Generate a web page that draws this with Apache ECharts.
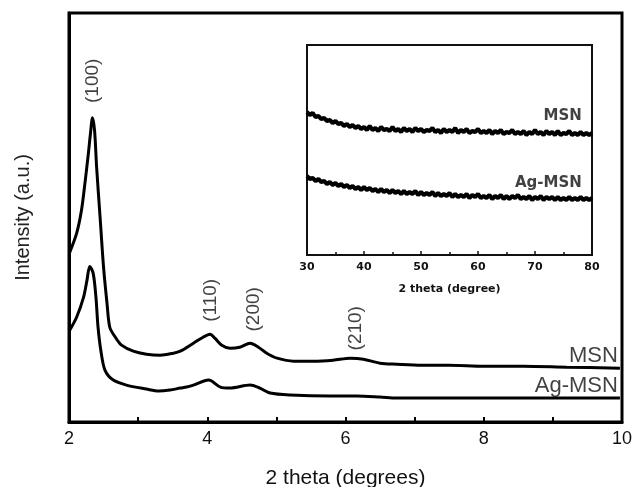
<!DOCTYPE html>
<html>
<head>
<meta charset="utf-8">
<script src="https://cdn.jsdelivr.net/npm/echarts@6/dist/echarts.min.js"></script>
<style>
  html, body { margin: 0; padding: 0; background: #fff; }
  #chart { width: 634px; height: 487px; }
</style>
</head>
<body>
<div id="chart"></div>
<script>
// main pattern, low angle (2 theta, intensity a.u.)
const msnTheta = [2.01, 2.11, 2.18, 2.23, 2.28, 2.31, 2.34, 2.37, 2.40, 2.45, 2.50, 2.55, 2.59, 2.67, 2.76, 2.93, 3.12, 3.32, 3.51, 3.61, 3.80, 3.94, 4.04, 4.11, 4.21, 4.33, 4.47, 4.62, 4.74, 4.86, 5.01, 5.25, 5.54, 5.82, 6.07, 6.26, 6.50, 6.74, 7.10, 7.50, 8.00, 8.57, 9.20, 9.97]
const msnVal = [170, 189, 212, 239, 269, 289, 305, 292, 255, 205, 155, 119, 95, 85, 77, 71, 68, 67, 69, 71, 79, 85, 88, 84, 77, 74, 75, 79, 75, 69, 64, 61, 61, 62, 64, 63, 59, 58, 57, 57, 56, 56, 55, 54]

const agTheta = [2.01, 2.11, 2.21, 2.26, 2.30, 2.35, 2.39, 2.42, 2.46, 2.52, 2.64, 2.83, 3.12, 3.30, 3.46, 3.61, 3.70, 3.80, 4.02, 4.19, 4.33, 4.62, 4.76, 4.91, 5.20, 5.78, 6.16, 6.50, 6.74, 7.50, 8.57, 9.97]
const agVal = [92, 105, 125, 142, 156, 149, 125, 95, 72, 52, 42, 37, 33, 31, 32, 34, 35, 37, 42, 35, 34, 37, 34, 29, 27, 26, 26, 25, 24, 24, 24, 24]

const peakNames = ['(100)', '(110)', '(200)', '(210)']
const peakTheta = [2.35, 4.05, 4.68, 6.15]
const peakLabelY = [342, 122, 113, 94]

const curveNames = ['MSN', 'Ag-MSN']
const curveNameY = [66, 36]

// inset, wide angle
const insetTheta = [30, 30.5, 31, 31.5, 32, 32.5, 33, 33.5, 34, 34.5, 35, 35.5, 36, 36.5, 37, 37.5, 38, 38.5, 39, 39.5, 40, 40.5, 41, 41.5, 42, 42.5, 43, 43.5, 44, 44.5, 45, 45.5, 46, 46.5, 47, 47.5, 48, 48.5, 49, 49.5, 50, 50.5, 51, 51.5, 52, 52.5, 53, 53.5, 54, 54.5, 55, 55.5, 56, 56.5, 57, 57.5, 58, 58.5, 59, 59.5, 60, 60.5, 61, 61.5, 62, 62.5, 63, 63.5, 64, 64.5, 65, 65.5, 66, 66.5, 67, 67.5, 68, 68.5, 69, 69.5, 70, 70.5, 71, 71.5, 72, 72.5, 73, 73.5, 74, 74.5, 75, 75.5, 76, 76.5, 77, 77.5, 78, 78.5, 79, 79.5, 80]
const insetMsn = [143, 140, 142, 138, 139, 136, 137, 134, 135, 132, 134, 131, 132, 129, 131, 128, 130, 127, 129, 126, 128, 125, 129, 125, 127, 124, 128, 125, 126, 124, 128, 124, 126, 123, 127, 124, 126, 123, 127, 124, 126, 123, 125, 124, 127, 123, 125, 122, 126, 123, 125, 123, 127, 122, 125, 123, 126, 122, 124, 123, 126, 122, 124, 122, 125, 121, 124, 122, 125, 121, 123, 122, 125, 121, 123, 121, 124, 120, 123, 121, 125, 121, 123, 120, 124, 121, 123, 120, 124, 120, 122, 121, 124, 120, 122, 120, 123, 120, 122, 120, 122]
const insetAg = [79, 76, 77, 74, 76, 73, 74, 71, 73, 70, 72, 69, 71, 68, 70, 67, 69, 66, 68, 65, 68, 65, 67, 64, 66, 63, 66, 63, 65, 62, 65, 62, 64, 61, 64, 61, 63, 61, 64, 60, 63, 60, 62, 60, 63, 59, 62, 59, 61, 59, 62, 58, 61, 58, 60, 58, 61, 57, 60, 58, 61, 57, 59, 57, 60, 56, 59, 57, 60, 56, 59, 56, 59, 57, 60, 56, 58, 56, 59, 55, 58, 56, 59, 55, 58, 56, 58, 55, 58, 55, 57, 55, 58, 55, 57, 55, 58, 55, 57, 55, 57]
const insetNameX = 78.2
const insetNameY = [139, 72]

const zip = (a, b) => a.map((v, i) => [v, b[i]])
const font = 'Liberation Sans, Arial, sans-serif'
const insetFont = 'DejaVu Sans, sans-serif'

const chart = echarts.init(document.getElementById('chart'))

const option = {
  animation: false,
  grid: [
    { left: 69, right: 12, top: 13, bottom: 65, outerBoundsMode: 'none', show: true, borderColor: '#000', borderWidth: 3, backgroundColor: 'transparent' },
    { left: 307, right: 42, top: 45, bottom: 232, outerBoundsMode: 'none', show: true, borderColor: '#111', borderWidth: 2, backgroundColor: '#fff' },
  ],
  xAxis: [
    {
      gridIndex: 0, type: 'value', min: 2, max: 10, interval: 2,
      name: '2 theta (degrees)', nameLocation: 'middle', nameGap: 46,
      nameTextStyle: { fontFamily: font, fontSize: 21, color: '#111' },
      axisLine: { lineStyle: { color: '#000', width: 3 } },
      axisTick: { inside: true, length: 5, lineStyle: { color: '#000', width: 2 } },
      minorTick: { show: true, splitNumber: 2, length: 5, lineStyle: { color: '#000', width: 2 } },
      axisLabel: { fontFamily: font, fontSize: 18, color: '#111', margin: 8 },
      splitLine: { show: false },
    },
    {
      gridIndex: 1, type: 'value', min: 30, max: 80, interval: 10,
      name: '2 theta (degree)', nameLocation: 'middle', nameGap: 29,
      nameTextStyle: { fontFamily: insetFont, fontSize: 11, fontWeight: 'bold', color: '#111' },
      axisLine: { lineStyle: { color: '#111', width: 2 } },
      axisTick: { inside: true, length: 4, lineStyle: { color: '#111', width: 1.5 } },
      minorTick: { show: true, splitNumber: 2, length: 3, lineStyle: { color: '#111', width: 1.5 } },
      axisLabel: { fontFamily: insetFont, fontSize: 11, fontWeight: 'bold', color: '#111', margin: 7 },
      splitLine: { show: false },
    },
  ],
  yAxis: [
    {
      gridIndex: 0, type: 'value', min: 0, max: 410,
      name: 'Intensity (a.u.)', nameLocation: 'middle', nameGap: 36,
      nameTextStyle: { fontFamily: font, fontSize: 20, color: '#222' },
      axisLine: { show: true, lineStyle: { color: '#000', width: 3 } },
      axisTick: { show: false }, axisLabel: { show: false }, splitLine: { show: false },
    },
    {
      gridIndex: 1, type: 'value', min: 0, max: 210,
      axisLine: { show: true, lineStyle: { color: '#111', width: 2 } },
      axisTick: { show: false }, axisLabel: { show: false }, splitLine: { show: false },
    },
  ],
  series: [
    {
      name: 'MSN', type: 'line', xAxisIndex: 0, yAxisIndex: 0, data: zip(msnTheta, msnVal),
      showSymbol: false, smooth: 0.3, lineStyle: { color: '#000', width: 3 },
    },
    {
      name: 'Ag-MSN', type: 'line', xAxisIndex: 0, yAxisIndex: 0, data: zip(agTheta, agVal),
      showSymbol: false, smooth: 0.3, lineStyle: { color: '#000', width: 3 },
    },
    {
      type: 'scatter', xAxisIndex: 0, yAxisIndex: 0, symbolSize: 0, silent: true,
      data: peakNames.map((n, i) => ({ value: [peakTheta[i], peakLabelY[i]], name: n })),
      label: {
        show: true, position: 'inside', rotate: 90, formatter: p => p.name,
        fontFamily: font, fontSize: 19, color: '#111',
      },
    },
    {
      type: 'scatter', xAxisIndex: 0, yAxisIndex: 0, symbolSize: 0, silent: true,
      data: curveNames.map((n, i) => ({ value: [9.94, curveNameY[i]], name: n })),
      label: {
        show: true, position: 'left', distance: 0, formatter: p => p.name,
        fontFamily: font, fontSize: 22, color: '#111',
      },
    },
    {
      name: 'MSN wide', type: 'line', xAxisIndex: 1, yAxisIndex: 1, data: zip(insetTheta, insetMsn),
      showSymbol: false, lineStyle: { color: '#000', width: 4 },
    },
    {
      name: 'Ag-MSN wide', type: 'line', xAxisIndex: 1, yAxisIndex: 1, data: zip(insetTheta, insetAg),
      showSymbol: false, lineStyle: { color: '#000', width: 4 },
    },
    {
      type: 'scatter', xAxisIndex: 1, yAxisIndex: 1, symbolSize: 0, silent: true,
      data: curveNames.map((n, i) => ({ value: [insetNameX, insetNameY[i]], name: n })),
      label: {
        show: true, position: 'left', distance: 0, formatter: p => p.name,
        fontFamily: insetFont, fontSize: 15, fontWeight: 'bold', color: '#111',
      },
    },
  ],
}

chart.setOption(option)
</script>
</body>
</html>
